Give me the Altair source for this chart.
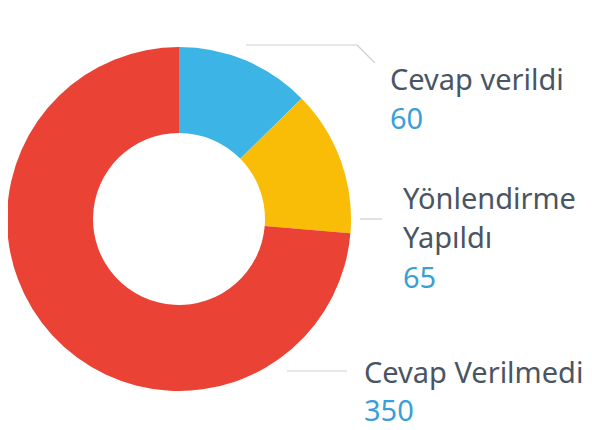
import altair as alt
import pandas as pd

categories = ["Cevap verildi", "Yönlendirme Yapıldı", "Cevap Verilmedi"]
values = [60, 65, 350]
colors = ["#3CB4E5", "#F9BC07", "#EA4335"]
order = [1, 2, 3]

df = pd.DataFrame({"category": categories, "value": values, "order": order})

W, H = 576, 422
CX, CY = 171, 211
R_OUT, R_IN = 172, 86

arc = alt.Chart(df).mark_arc(outerRadius=R_OUT, innerRadius=R_IN, strokeWidth=0).encode(
    theta=alt.Theta("value:Q", stack=True),
    order=alt.Order("order:Q"),
    color=alt.Color("category:N", scale=alt.Scale(domain=categories, range=colors), legend=None),
    x=alt.value(CX),
    y=alt.value(CY),
)

line_color = "#cfcfcf"
one = pd.DataFrame({"a": [0]})

def rule(x1, y1, x2, y2):
    return alt.Chart(one).mark_rule(color=line_color, strokeWidth=1.2).encode(
        x=alt.value(x1), y=alt.value(y1), x2=alt.value(x2), y2=alt.value(y2)
    )

rules = [
    rule(238, 37, 349, 37),
    rule(349, 37, 367, 55),
    rule(352, 211, 374, 211),
    rule(279, 363, 339, 363),
]

label_color = "#4A5563"
num_color = "#3A9FD8"
FS = 29

def txt(s, x, y, color):
    return alt.Chart(one).mark_text(
        text=s, align="left", baseline="alphabetic", font="Noto Sans", fontSize=FS, color=color
    ).encode(x=alt.value(x), y=alt.value(y))

texts = [
    txt("Cevap verildi", 382, 82, label_color),
    txt(str(values[0]), 382, 121, num_color),
    txt("Yönlendirme", 395, 201, label_color),
    txt("Yapıldı", 395, 240, label_color),
    txt(str(values[1]), 395, 280, num_color),
    txt("Cevap Verilmedi", 356, 375, label_color),
    txt(str(values[2]), 356, 413, num_color),
]

chart = alt.layer(arc, *rules, *texts).properties(
    width=W, height=H, autosize=alt.AutoSizeParams(type="none"), padding=0
).configure_view(stroke=None)

chart.save("out.html", embed_options={"renderer": "svg", "actions": False})
